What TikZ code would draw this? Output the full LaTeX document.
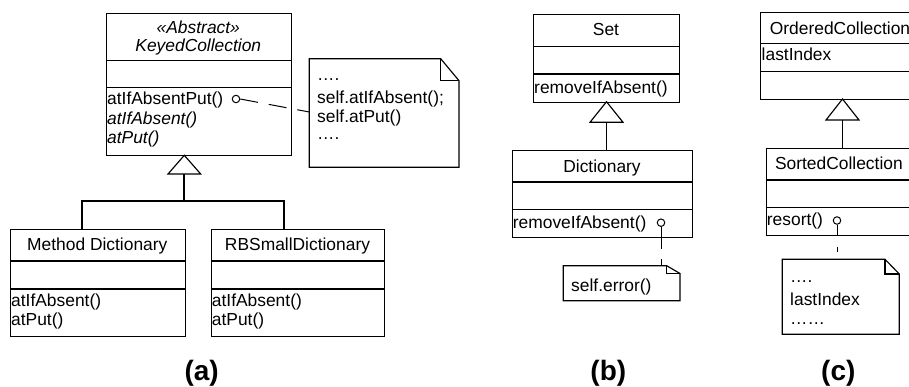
\documentclass[tikz,border=0pt]{standalone}
\usepackage{fontspec}
\setmainfont{Liberation Sans}
\newcommand\fsz{\fontsize{17.4}{19}\selectfont}
\begin{document}
\begin{tikzpicture}[x=1pt,y=-1pt,
  box/.style={draw, line width=1.15pt, inner sep=0pt, anchor=north west},
  ln/.style={line width=1.15pt},
  gen/.style={line width=1.7pt},
  txt/.style={inner sep=0pt, anchor=base west, font=\fsz},
  ittxt/.style={inner sep=0pt, anchor=base west, font=\fsz\itshape},
  ttl/.style={inner sep=0pt, anchor=base, font=\fsz},
  ittl/.style={inner sep=0pt, anchor=base, font=\fsz\itshape},
  dots/.style={inner sep=0pt, anchor=base west, font=\fsz, text height=3pt, text depth=0pt},
  lbl/.style={inner sep=0pt, anchor=base, font=\fontsize{28}{30}\selectfont\bfseries},
  hole/.style={draw, circle, line width=1pt, inner sep=0pt, minimum size=7.5pt, fill=white},
  tri/.style={line width=1.15pt, fill=white, line join=miter},
  notel/.style={line width=1.15pt, line join=miter}]
\useasboundingbox (0,0) rectangle (909,386);
\clip (0,0) rectangle (909,386);
\fill[white] (0,0) rectangle (909,386);

% ---------------- (a) ----------------
\node[box, minimum width=184.7pt, minimum height=141.7pt] (kc) at (106,13.3) {};
\draw[ln] (106,60.3) -- (290.7,60.3);
\draw[ln] (106,87.7) -- (290.7,87.7);
\node[ittl] (kcs) at (198.3,33.5) {«Abstract»};
\node[ittl] (kcn) at (198.3,51.5) {KeyedCollection};
\node[txt] (kcm1) at (107,104.5) {atIfAbsentPut()};
\node[ittxt] (kcm2) at (107,124) {atIfAbsent()};
\node[ittxt] (kcm3) at (107,143) {atPut()};
\node[hole] (h1) at (236,99) {};

\coordinate (n1tl) at (309.3,58.7);
\node[inner sep=0pt, minimum width=149.7pt, minimum height=108.6pt, anchor=north west] (n1) at (n1tl) {};
\draw[notel] (309.3,58.7) -- (440.7,58.7) -- (459,80.7) -- (459,167.3) -- (309.3,167.3) -- cycle;
\draw[notel] (440.7,58.7) -- (440.7,80.7) -- (459,80.7);
\node[dots] (n1a) at (317,80) {….};
\node[txt] (n1b) at (317,103) {self.atIfAbsent();};
\node[txt] (n1c) at (317,122.5) {self.atPut()};
\node[dots] (n1d) at (317,139) {….};
\coordinate (n1in) at (309.3,112);
\draw[line width=1pt, dash pattern=on 18pt off 11pt] (h1.east) -- (n1in);

\node[box, minimum width=174.7pt, minimum height=106.4pt] (md) at (10,229.3) {};
\draw[ln] (10,261) -- (184.7,261);
\draw[ln] (10,289) -- (184.7,289);
\node[ttl] (mdn) at (97.3,250.5) {Method Dictionary};
\node[txt] (mdm1) at (11,306) {atIfAbsent()};
\node[txt] (mdm2) at (11,325) {atPut()};

\node[box, minimum width=173.6pt, minimum height=106.4pt] (rb) at (210.7,229.3) {};
\draw[ln] (210.7,261) -- (384.3,261);
\draw[ln] (210.7,289) -- (384.3,289);
\node[ttl] (rbn) at (297.5,250.5) {RBSmallDictionary};
\node[txt] (rbm1) at (211.7,306) {atIfAbsent()};
\node[txt] (rbm2) at (211.7,325) {atPut()};

\coordinate (ga) at (184.3,155.3);
\coordinate (gab) at (184.3,174);
\coordinate (gaj) at (184.3,201);
\coordinate (gam) at (82.3,229.3);
\coordinate (gar) at (283.7,229.3);
\draw[tri] (ga) -- (200.7,174) -- (168,174) -- cycle;
\draw[gen] (gab) -- (gaj);
\draw[gen] (gam) |- (gaj) -| (gar);
\node[lbl] (la) at (201.7,380) {(a)};

% ---------------- (b) ----------------
\node[box, minimum width=146pt, minimum height=87.4pt] (set) at (533,14.3) {};
\draw[ln] (533,46.3) -- (679,46.3);
\draw[ln] (533,74) -- (679,74);
\node[ttl] (setn) at (606,35.5) {Set};
\node[txt] (setm) at (534,93) {removeIfAbsent()};

\coordinate (gb) at (606.5,101.7);
\coordinate (gbb) at (606.5,122.3);
\coordinate (gbd) at (606.5,150);
\draw[tri] (gb) -- (623,122.3) -- (590,122.3) -- cycle;
\draw[gen] (gbb) -- (gbd);

\node[box, minimum width=180.6pt, minimum height=87.3pt] (dic) at (511.7,150) {};
\draw[ln] (511.7,182) -- (692.3,182);
\draw[ln] (511.7,209.3) -- (692.3,209.3);
\node[ttl] (dicn) at (602,172) {Dictionary};
\node[txt] (dicm) at (512.7,228) {removeIfAbsent()};
\node[hole] (h2) at (661,222.7) {};

\node[inner sep=0pt, minimum width=116.7pt, minimum height=35pt, anchor=north west] (n2) at (563.3,265.7) {};
\draw[notel] (563.3,265.7) -- (666.7,265.7) -- (680,273.5) -- (680,300.7) -- (563.3,300.7) -- cycle;
\draw[notel] (666.7,265.7) -- (666.7,273.5) -- (680,273.5);
\node[txt] (n2a) at (571,291.5) {self.error()};
\coordinate (n2in) at (661,265.7);
\draw[line width=1pt, dash pattern=on 22.5pt off 10pt] (h2.south) -- (n2in);
\node[lbl] (lb) at (608.3,380) {(b)};

% ---------------- (c) ----------------
\node[box, minimum width=160pt, minimum height=86.7pt] (oc) at (760,12.3) {};
\draw[ln] (760,43.7) -- (920,43.7);
\draw[ln] (760,71.3) -- (920,71.3);
\node[ttl] (ocn) at (840,34.5) {OrderedCollection};
\node[txt] (ocm) at (761.5,60.5) {lastIndex};

\coordinate (gc) at (842.5,99);
\coordinate (gcb) at (842.5,120);
\coordinate (gcd) at (842.5,148.3);
\draw[tri] (gc) -- (859,120) -- (826,120) -- cycle;
\draw[gen] (gcb) -- (gcd);

\node[box, minimum width=146.3pt, minimum height=86.7pt] (sc) at (765.7,148.3) {};
\draw[ln] (765.7,180) -- (912,180);
\draw[ln] (765.7,207.3) -- (912,207.3);
\node[ttl] (scn) at (838.9,169.5) {SortedCollection};
\node[txt] (scm) at (766.7,225.5) {resort()};
\node[hole] (h3) at (837,220.5) {};

\node[inner sep=0pt, minimum width=117pt, minimum height=75pt, anchor=north west] (n3) at (782.3,259.3) {};
\draw[notel] (782.3,259.3) -- (885,259.3) -- (899.3,274) -- (899.3,334.3) -- (782.3,334.3) -- cycle;
\draw[notel] (885,259.3) -- (885,274) -- (899.3,274);
\node[dots] (n3a) at (790,282) {….};
\node[txt] (n3b) at (790,305) {lastIndex};
\node[dots] (n3c) at (790,324) {……};
\coordinate (n3in) at (837,259.3);
\draw[line width=1pt, dash pattern=on 10.5pt off 11.7pt on 5pt off 10pt] (h3.south) -- (n3in);
\node[lbl] (lc) at (838.3,380) {(c)};
\end{tikzpicture}
\end{document}
